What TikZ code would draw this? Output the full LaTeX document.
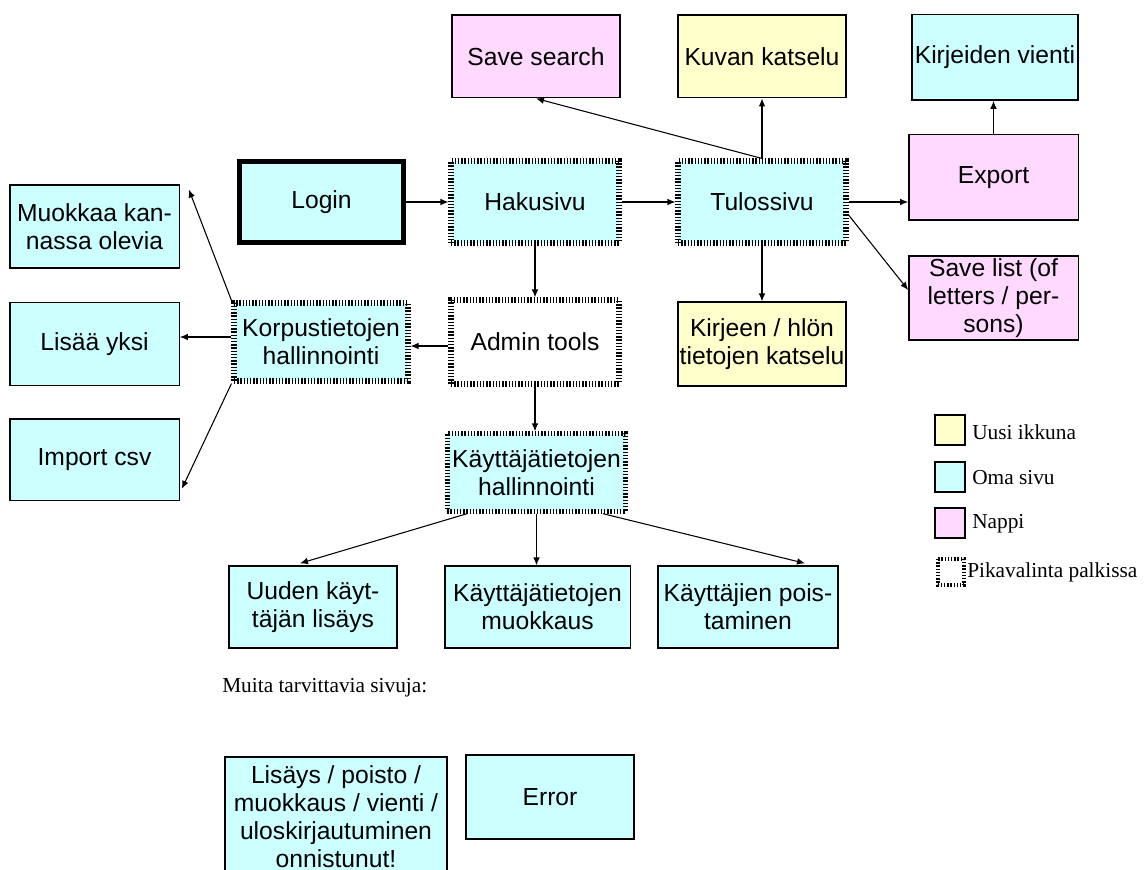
\documentclass[tikz,border=0pt]{standalone}
\usepackage{fontspec}
\setmainfont{Liberation Serif}
\newfontfamily\boxfont{Liberation Sans}
\usepackage{xcolor}
\usetikzlibrary{calc, arrows.meta}

\definecolor{omacol}{HTML}{CCFFFF}
\definecolor{uusicol}{HTML}{FFFFCC}
\definecolor{nappicol}{HTML}{FFD9FF}

\tikzset{
  box/.style={draw, line width=1pt, align=center, inner sep=1pt,
    font=\boxfont\fontsize{18.5}{21}\selectfont,
    minimum width=126pt, minimum height=62pt},
  oma/.style={box, fill=omacol},
  uusi/.style={box, fill=uusicol},
  nappi/.style={box, fill=nappicol},
  pika/.style={line width=3.8pt, dash pattern=on 1.1pt off 1.3pt},
  arr/.style={-{Latex[length=6pt,width=5pt]}, line width=0.8pt},
  legtext/.style={anchor=west, inner sep=0pt, font=\fontsize{16}{18}\selectfont}
}

\begin{document}
\begin{tikzpicture}[x=0.75pt, y=-0.75pt]
  \useasboundingbox (0,0) rectangle (1146,870);

  % Top row
  \node[nappi] (save) at (536,56.5) {Save search};
  \node[uusi] (kuva) at (762,56.5) {Kuvan katselu};
  \node[oma, minimum width=124.5pt, minimum height=64pt] (vienti) at (995,57.5) {Kirjeiden vienti};
  \node[nappi, minimum width=127pt, minimum height=64pt] (export) at (993.5,177.5) {Export};

  % Main row
  \node[oma, line width=3.75pt, minimum width=123pt, minimum height=60pt] (login) at (321.5,202) {Login};
  \node[oma, pika, minimum height=61.5pt] (haku) at (535,202) {Hakusivu};
  \node[oma, pika, minimum height=61.5pt] (tulos) at (762,202) {Tulossivu};
  \node[nappi, minimum width=127pt, minimum height=63pt] (savelist) at (993.5,298) {Save list (of\\letters / per-\\sons)};

  % Left column
  \node[oma, minimum width=127pt] (muokkaa) at (94.5,226.5) {Muokkaa kan-\\nassa olevia};
  \node[oma, minimum width=127pt] (lisaa) at (94.5,344) {Lisää yksi};
  \node[oma, minimum width=127pt, minimum height=61pt] (import) at (94.5,459.5) {Import csv};

  % Middle row
  \node[oma, pika, minimum width=130.5pt, minimum height=58.5pt] (korpus) at (321,342) {Korpustietojen\\hallinnointi};
  \node[box, pika, minimum height=63pt] (admin) at (535,342) {Admin tools};
  \node[uusi, minimum height=63pt] (kirjeen) at (762,344) {Kirjeen / hlön\\tietojen katselu};
  \node[oma, pika, minimum width=134pt, minimum height=58pt] (kayt) at (536.5,472.5) {Käyttäjätietojen\\hallinnointi};

  % Bottom row
  \node[oma, minimum height=61.5pt] (uuden) at (313,607) {Uuden käyt-\\täjän lisäys};
  \node[oma, minimum width=139pt, minimum height=61.5pt] (muok) at (537.5,607) {Käyttäjätietojen\\muokkaus};
  \node[oma, minimum width=135pt, minimum height=61.5pt] (poist) at (748,607) {Käyttäjien pois-\\taminen};

  % Other pages
  \node[legtext] (muita) at (222,688) {Muita tarvittavia sivuja:};
  \node[oma, minimum width=166.5pt, minimum height=90pt] (lisays) at (336,817) {Lisäys / poisto /\\muokkaus / vienti /\\uloskirjautuminen\\onnistunut!};
  \node[oma, minimum height=63pt] (error) at (550,797) {Error};

  % Arrows
  \draw[arr] (login) -- (haku);
  \draw[arr] (haku) -- (tulos);
  \draw[arr] (tulos.north) -- (save.south);
  \draw[arr] (tulos.north) -- (kuva.south);
  \draw[arr] (tulos.east) -- (tulos.east -| export.west);
  \draw[arr] ($(tulos.east)+(0,13)$) -- ($(savelist.west)+(0,-8)$);
  \draw[arr] (tulos.south) -- (kirjeen.north);
  \draw[arr] (export.north) -- (export.north |- vienti.south);
  \draw[arr] (haku.south) -- (admin.north);
  \draw[arr] ($(admin.west)+(0,4)$) -- ($(korpus.east)+(0,4)$);
  \draw[arr] (korpus.north west) -- ($(muokkaa.north east)+(9,5)$);
  \draw[arr] ($(korpus.west)+(0,-5)$) -- ($(korpus.west -| lisaa.east)+(0,-5)$);
  \draw[arr] (korpus.south west) -- ($(import.south east)+(2,-12)$);
  \draw[arr] (admin.south) -- (admin.south |- kayt.north);
  \draw[arr] ($(kayt.south)+(-69.5,0)$) -- ($(uuden.north)+(-13,-2)$);
  \draw[arr] (kayt.south) -- (kayt.south |- muok.north);
  \draw[arr] ($(kayt.south)+(66.5,0)$) -- ($(poist.north)+(57,-2)$);

  % Legend
  \draw[line width=1pt, fill=uusicol] (935,415) rectangle (965,445);
  \node[legtext] (leg1) at (972,432) {Uusi ikkuna};
  \draw[line width=1pt, fill=omacol] (935,462) rectangle (965,492);
  \node[legtext] (leg2) at (972,478) {Oma sivu};
  \draw[line width=1pt, fill=nappicol] (935,508) rectangle (965,538);
  \node[legtext] (leg3) at (972,524) {Nappi};
  \draw[pika, line width=2.8pt] (938,559) rectangle (964,585);
  \node[legtext] (leg4) at (967,572) {Pikavalinta palkissa};
\end{tikzpicture}
\end{document}
